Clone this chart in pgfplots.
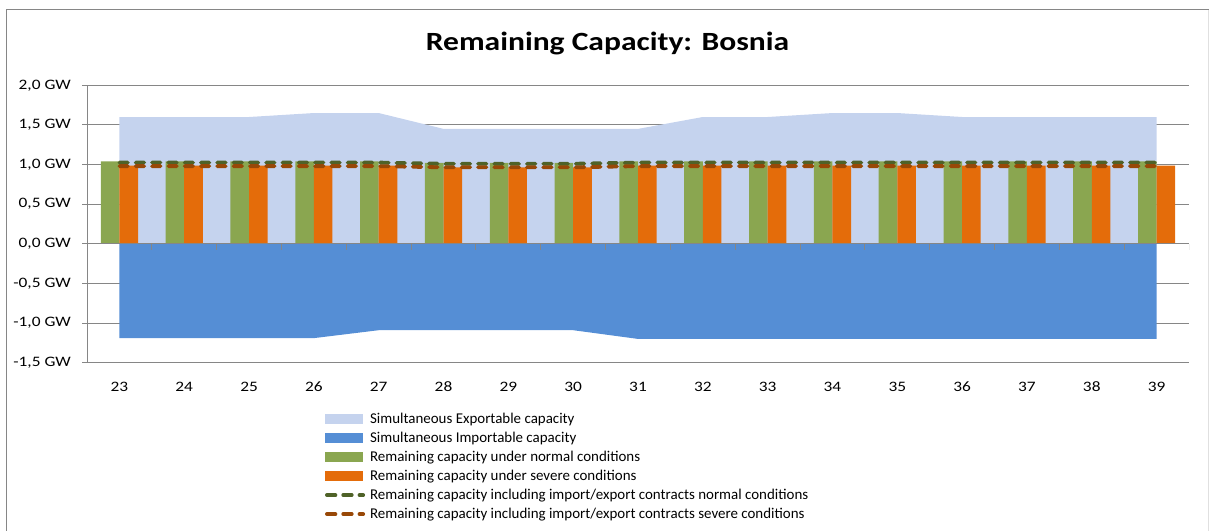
\documentclass[border=0pt]{standalone}
\usepackage{pgfplots}
\pgfplotsset{compat=1.18}
\usepackage{fontspec}
\setmainfont{Carlito}[FakeStretch=1.2]
\newfontfamily\legendfont{Carlito}[FakeStretch=1.0]
\definecolor{expcol}{RGB}{197,211,238}
\definecolor{impcol}{RGB}{85,142,213}
\definecolor{grncol}{RGB}{138,166,80}
\definecolor{orgcol}{RGB}{228,108,10}
\definecolor{dgrn}{RGB}{79,98,40}
\definecolor{dbrn}{RGB}{152,72,7}
\definecolor{axgray}{RGB}{134,134,134}
\pgfplotsset{
  sqleg/.style={legend image code/.code={\fill[##1] (0bp,-5bp) rectangle (38bp,5bp);}},
  dashleg/.style={legend image code/.code={\draw[##1] (1.75bp,0bp) -- (38bp,0bp);}},
}
\begin{document}
\begin{tikzpicture}
\path[use as bounding box] (0,0) rectangle (1209bp,531bp);
\draw[axgray, line width=1.3bp] (6.7bp,0) -- (6.7bp,521.7bp) -- (1209bp,521.7bp);
\draw[black!12, line width=1bp] (1208bp,0) -- (1208bp,521.2bp);
\node[anchor=base, font=\fontsize{26.4}{30}\selectfont\bfseries] at (607.5bp,480bp) {Remaining Capacity: Bosnia};
\begin{axis}[
  at={(87bp,168.3bp)}, anchor=south west,
  scale only axis, width=1102bp, height=277.4bp,
  xmin=22.5, xmax=39.5, ymin=-1.5, ymax=2,
  axis x line*=bottom, axis y line*=left,
  axis line style={-, draw=axgray, line width=1bp},
  xtick={23,...,39},
  xticklabels={23,24,25,26,27,28,29,30,31,32,33,34,35,36,37,38,39},
  xtick style={draw=none},
  ytick={-1.5,-1,-0.5,0,0.5,1,1.5,2},
  yticklabels={{-1,5 GW},{-1,0 GW},{-0,5 GW},{0,0 GW},{0,5 GW},{1,0 GW},{1,5 GW},{2,0 GW}},
  ytick style={draw=axgray, line width=1bp},
  tick align=outside, major tick length=5bp,
  ymajorgrids, major grid style={draw=axgray, line width=1bp},
  tick label style={font=\fontsize{14.5}{17}\selectfont, text=black},
  xticklabel style={anchor=base, yshift=-24bp},
  yticklabel style={anchor=east, inner xsep=0pt, xshift=-11bp},
  legend style={at={(axis description cs:0.216,-0.169)}, anchor=north west,
    draw=none, fill=none, inner sep=0pt, outer sep=0pt, row sep=0pt, column sep=5bp,
    font=\legendfont\fontsize{15}{17}\selectfont,
    nodes={inner sep=0pt, text height=14bp, text depth=5bp}},
  legend cell align=left,
]
\addplot[fill=expcol, draw=none, sqleg] coordinates {
(23,1.6) (24,1.6) (25,1.6) (26,1.65) (27,1.65) (28,1.45) (29,1.45) (30,1.45) (31,1.45)
(32,1.6) (33,1.6) (34,1.65) (35,1.65) (36,1.6) (37,1.6) (38,1.6) (39,1.6)} \closedcycle;
\addlegendentry{Simultaneous Exportable capacity}
\addplot[fill=impcol, draw=none, sqleg] coordinates {
(23,-1.19) (24,-1.19) (25,-1.19) (26,-1.19) (27,-1.09) (28,-1.09) (29,-1.09) (30,-1.09) (31,-1.2)
(32,-1.2) (33,-1.2) (34,-1.2) (35,-1.2) (36,-1.2) (37,-1.2) (38,-1.2) (39,-1.2)} \closedcycle;
\addlegendentry{Simultaneous Importable capacity}
\addplot[ybar, bar width=18.6bp, bar shift=-9.3bp, fill=grncol, draw=none, sqleg] coordinates {
(23,1.04) (24,1.04) (25,1.04) (26,1.04) (27,1.04) (28,1.02) (29,1.02) (30,1.02) (31,1.04)
(32,1.04) (33,1.04) (34,1.04) (35,1.04) (36,1.04) (37,1.04) (38,1.04) (39,1.04)};
\addlegendentry{Remaining capacity under normal conditions}
\addplot[ybar, bar width=18.6bp, bar shift=9.3bp, fill=orgcol, draw=none, sqleg] coordinates {
(23,0.985) (24,0.985) (25,0.985) (26,0.985) (27,0.985) (28,0.965) (29,0.965) (30,0.965) (31,0.985)
(32,0.985) (33,0.985) (34,0.985) (35,0.985) (36,0.985) (37,0.985) (38,0.985) (39,0.985)};
\addlegendentry{Remaining capacity under severe conditions}
\addplot[dgrn, line width=3.8bp, dash pattern=on 8.5bp off 7.8bp, line cap=round, dashleg] coordinates {
(23,1.025) (24,1.025) (25,1.025) (26,1.025) (27,1.025) (28,1.01) (29,1.01) (30,1.01) (31,1.025)
(32,1.025) (33,1.025) (34,1.025) (35,1.025) (36,1.025) (37,1.025) (38,1.025) (39,1.025)};
\addlegendentry{Remaining capacity including import/export contracts normal conditions}
\addplot[dbrn, line width=3.8bp, dash pattern=on 8.5bp off 7.8bp, line cap=round, dashleg] coordinates {
(23,0.98) (24,0.98) (25,0.98) (26,0.98) (27,0.98) (28,0.965) (29,0.965) (30,0.965) (31,0.98)
(32,0.98) (33,0.98) (34,0.98) (35,0.98) (36,0.98) (37,0.98) (38,0.98) (39,0.98)};
\addlegendentry{Remaining capacity including import/export contracts severe conditions}
\draw[axgray, line width=1.2bp] (axis cs:22.5,0) -- (axis cs:39.5,0);
\pgfplotsinvokeforeach{22.5,23.5,24.5,25.5,26.5,27.5,28.5,29.5,30.5,31.5,32.5,33.5,34.5,35.5,36.5,37.5,38.5,39.5}{\draw[axgray, line width=1bp] (axis cs:#1,0) -- ([yshift=-6bp]axis cs:#1,0);}
\end{axis}
\end{tikzpicture}
\end{document}
